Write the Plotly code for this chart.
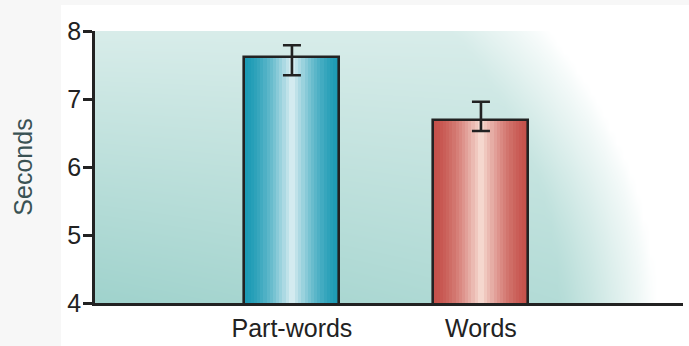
import numpy as np
import plotly.graph_objects as go

# Mean looking times per test item type, with asymmetric error bars
categories = ["Part-words", "Words"]
means = [7.62, 6.69]
err_plus = [0.17, 0.27]
err_minus = [0.27, 0.16]
y_ticks = [4, 5, 6, 7, 8]

x_pos = [0, 1]
bar_width = 0.503
x_range = [-1.042, 2.069]
y_range = [4, 8]


def hex_to_rgb(h):
    h = h.lstrip("#")
    return tuple(int(h[i:i + 2], 16) for i in (0, 2, 4))


def mix(c1, c2, t):
    a, b = hex_to_rgb(c1), hex_to_rgb(c2)
    return "rgb({},{},{})".format(*[round(a[k] + (b[k] - a[k]) * t) for k in range(3)])


fig = go.Figure()

# Soft teal backdrop fading to white towards the right
nu, nv = 90, 40
u = np.linspace(0, 1, nu)
v = np.linspace(0, 1, nv)
U, V = np.meshgrid(u, v)
edge = 0.95 - 0.18 * V ** 2
fade = np.clip((edge - U) / 0.16, 0, 1) ** 0.8
base = 0.42 + 0.58 * (1 - V) * (1 - 0.45 * U)
z = base * fade
fig.add_trace(go.Heatmap(
    x=x_range[0] + u * (x_range[1] - x_range[0]),
    y=y_range[0] + v * (y_range[1] - y_range[0]),
    z=z, zmin=0, zmax=1, zsmooth="best", showscale=False, hoverinfo="skip",
    colorscale=[[0, "#ffffff"], [0.3, "#e4f2f0"], [0.6, "#c6e4e0"], [1, "#9fd2cc"]],
))

# Cylinder-style vertical shading inside each bar
edges = ["#1b9ab4", "#c5504a"]
centers = ["#ddeff3", "#f8ded5"]
n_strips = 30
for i in range(n_strips):
    t = (i + 0.5) / n_strips
    light = (1 - abs(2 * t - 1)) ** 1.6
    fig.add_trace(go.Bar(
        x=x_pos, y=means, base=0,
        width=bar_width / n_strips,
        offset=-bar_width / 2 + i * bar_width / n_strips,
        marker=dict(color=[mix(edges[k], centers[k], light) for k in range(2)],
                    line=dict(width=0)),
        hoverinfo="skip", showlegend=False,
    ))

# Bar outlines with error bars
fig.add_trace(go.Bar(
    x=x_pos, y=means, width=bar_width,
    marker=dict(color="rgba(0,0,0,0)", line=dict(color="#222222", width=2.6)),
    error_y=dict(type="data", symmetric=False, array=err_plus, arrayminus=err_minus,
                 color="#222222", thickness=2.6, width=9),
    showlegend=False,
))

fig.update_layout(
    width=689, height=346,
    margin=dict(l=95, r=6, t=31, b=43),
    paper_bgcolor="#ffffff", plot_bgcolor="#ffffff",
    barmode="overlay", bargap=0,
    font=dict(family="Liberation Sans, Arial, sans-serif", size=25, color="#222222"),
    showlegend=False,
    shapes=[
        dict(type="rect", xref="paper", yref="paper", x0=-0.2, x1=-0.0578, y0=-0.3, y1=1.25,
             fillcolor="#f7f7f7", line=dict(width=0), layer="below"),
        dict(type="rect", xref="paper", yref="paper", x0=-0.2, x1=1.1, y0=1.0956, y1=1.25,
             fillcolor="#f7f7f7", line=dict(width=0), layer="below"),
    ],
)

fig.update_xaxes(
    range=x_range, tickmode="array", tickvals=x_pos, ticktext=categories,
    showline=True, linecolor="#222222", linewidth=2.6, ticks="", showgrid=False,
    zeroline=False, ticklabelstandoff=1, automargin=False,
    tickfont=dict(size=25, color="#222222"),
)
fig.update_yaxes(
    range=y_range, tickmode="array", tickvals=y_ticks,
    showline=True, linecolor="#222222", linewidth=2.8, ticks="outside", ticklen=9,
    tickwidth=2.6, tickcolor="#222222", showgrid=False, zeroline=False,
    tickfont=dict(size=25, color="#222222"), ticklabelstandoff=-3, automargin=False,
    title=dict(text="Seconds", font=dict(size=25, color="#3a5254"), standoff=28),
)

fig.write_html("out.html")
